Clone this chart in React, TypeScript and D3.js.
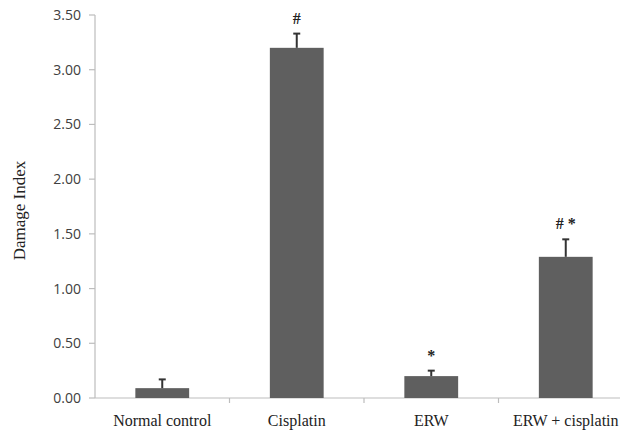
import { scaleBand, scaleLinear } from "d3";

const categories = ["Normal control", "Cisplatin", "ERW", "ERW + cisplatin"];
const values = [0.09, 3.2, 0.2, 1.29];
const errors = [0.08, 0.13, 0.05, 0.16];
const marks = ["", "#", "*", "# *"];
const yTicks = [0, 0.5, 1, 1.5, 2, 2.5, 3, 3.5];

const App = () => {
  const width = 627;
  const height = 432;
  const left = 95;
  const top = 15;
  const bottom = 398;
  const axisEnd = 620;

  const xscale = scaleBand<string>()
    .domain(categories)
    .range([left, left + 4 * 134.5])
    .paddingInner(0)
    .paddingOuter(0);
  const yscale = scaleLinear().domain([0, 3.5]).range([bottom, top]);
  const barW = xscale.bandwidth() / 2.5;
  const tickFont = "'Open Sans', 'Noto Sans', sans-serif";
  const serif = "'Liberation Serif', 'DejaVu Serif', serif";

  return (
    <svg
      width={width}
      height={height}
      style={{ position: "absolute", left: 0, top: 0, background: "#fff" }}
    >
      {/* y axis */}
      <line x1={left} x2={left} y1={yscale(3.5)} y2={bottom} stroke="#bdbdbd" strokeWidth={1.2} />
      {yTicks.map((t) => (
        <g key={t}>
          <line x1={left - 6} x2={left} y1={yscale(t)} y2={yscale(t)} stroke="#bdbdbd" strokeWidth={1.2} />
          <text
            x={left - 14}
            y={yscale(t)}
            dy="0.36em"
            textAnchor="end"
            fontFamily={tickFont}
            fontSize={14}
            fill="#404040"
          >
            {t.toFixed(2)}
          </text>
        </g>
      ))}
      <text
        transform={`translate(25, ${(top + bottom) / 2 + 4}) rotate(-90)`}
        textAnchor="middle"
        fontFamily={serif}
        fontSize={17}
        fill="#222"
      >
        Damage Index
      </text>

      {/* x axis */}
      <line x1={left} x2={axisEnd} y1={bottom} y2={bottom} stroke="#bdbdbd" strokeWidth={1.2} />
      {categories.slice(1).map((c) => (
        <line
          key={c}
          x1={xscale(c)!}
          x2={xscale(c)!}
          y1={bottom}
          y2={bottom + 5}
          stroke="#bdbdbd"
          strokeWidth={1.2}
        />
      ))}
      {categories.map((c) => (
        <text
          key={c}
          x={xscale(c)! + xscale.bandwidth() / 2}
          y={426}
          textAnchor="middle"
          fontFamily={serif}
          fontSize={16}
          fill="#222"
        >
          {c}
        </text>
      ))}

      {/* bars */}
      {categories.map((c, i) => {
        const cx = xscale(c)! + xscale.bandwidth() / 2;
        const yTop = yscale(values[i]);
        const yErr = yscale(values[i] + errors[i]);
        return (
          <g key={c}>
            <rect x={cx - barW / 2} y={yTop} width={barW} height={bottom - yTop} fill="#5f5f5f" />
            <line x1={cx} x2={cx} y1={yTop} y2={yErr} stroke="#333" strokeWidth={2} />
            <line x1={cx - 3.5} x2={cx + 3.5} y1={yErr} y2={yErr} stroke="#333" strokeWidth={2} />
            {marks[i] && (
              <text
                x={cx}
                y={yErr - 10}
                textAnchor="middle"
                fontFamily={serif}
                fontSize={16}
                fontWeight="bold"
                fill="#222"
              >
                {marks[i]}
              </text>
            )}
          </g>
        );
      })}
    </svg>
  );
};

export default App;
